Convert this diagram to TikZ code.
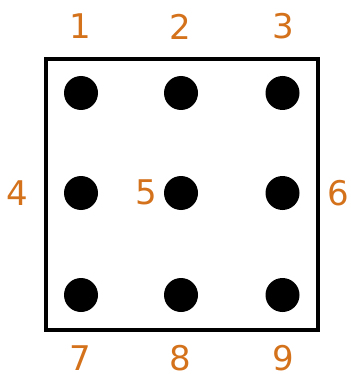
\documentclass[tikz,border=0pt]{standalone}
\usepackage{fontspec}
\setmainfont{DejaVu Sans}
\definecolor{lab}{RGB}{212,114,28}
\begin{document}
\begin{tikzpicture}[x=1pt,y=-1pt,
  dot/.style={circle,fill=black,minimum size=34pt,inner sep=0pt},
  lbl/.style={text=lab,inner sep=0pt,font=\fontsize{34}{34}\selectfont}]
\useasboundingbox (0,0) rectangle (350,374);
\node[draw=black,line width=4pt,minimum width=272pt,minimum height=270.5pt,inner sep=0pt] (frame) at (181.5,194.25) {};
\node[dot] (d1) at (81,93) {};
\node[dot] (d2) at (181,93) {};
\node[dot] (d3) at (282.5,93) {};
\node[dot] (d4) at (81,193) {};
\node[dot] (d5) at (181,193) {};
\node[dot] (d6) at (282.5,193) {};
\node[dot] (d7) at (81,295) {};
\node[dot] (d8) at (181,295) {};
\node[dot] (d9) at (282.5,295) {};
\node[lbl] (l1) at (80.5,26.5) {1};
\node[lbl] (l2) at (180.5,26.5) {2};
\node[lbl] (l3) at (283,26.5) {3};
\node[lbl] (l4) at (17,193) {4};
\node[lbl] (l5) at (146.5,192.5) {5};
\node[lbl] (l6) at (338,193) {6};
\node[lbl] (l7) at (80.5,358.5) {7};
\node[lbl] (l8) at (180.5,358.5) {8};
\node[lbl] (l9) at (283,358.5) {9};
\end{tikzpicture}
\end{document}
